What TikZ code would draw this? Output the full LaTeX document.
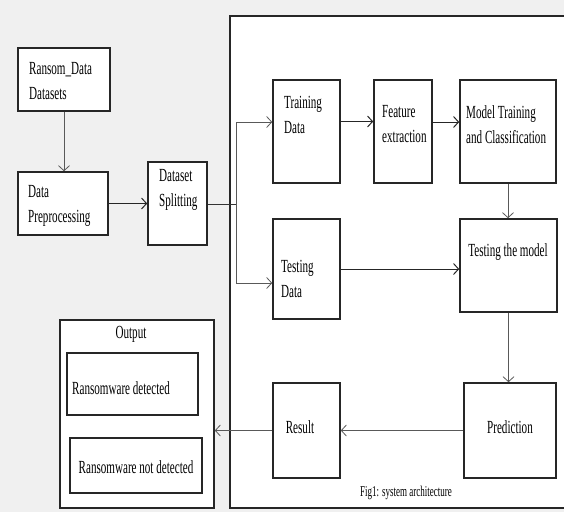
\documentclass[tikz,border=0pt]{standalone}
\usepackage{fontspec}
\setmainfont[FakeStretch=0.6]{Liberation Serif}
\usetikzlibrary{arrows.meta,%
		calc,%
		positioning}
\tikzset{blk/.style={draw=black!85, line width=1.6pt, fill=white, inner sep=0pt},
	lbl/.style={font=\fontsize{18.5}{25}\selectfont, align=left, inner sep=0pt},
	conn/.style={draw=black!65, line width=0.8pt, -{Straight Barb[length=5pt,width=11pt]}}}
\begin{document}
\begin{tikzpicture}[x=1pt,y=-1pt]
%sfondo e riquadro
\fill[black!6] (0,0) rectangle (564,512);
\useasboundingbox (0,0) rectangle (564,512);
\draw[fill=white, line width=1.6pt, draw=black!85] (230,16) rectangle (570,508);
%blocchi a sinistra
\node[blk, minimum width=92pt, minimum height=63pt] (ransom) at (64,79.5) {};
\node[lbl, anchor=west] (ransomtxt) at (29,81.5) {Ransom\_Data\\Datasets};
\node[blk, minimum width=90pt, minimum height=63pt] (prep) at (63,203.5) {};
\node[lbl, anchor=west] (preptxt) at (28,205.5) {Data\\Preprocessing};
\node[blk, minimum width=59pt, minimum height=83pt] (split) at (177.5,203.5) {};
\node[lbl, anchor=west] (splittxt) at (159,190) {Dataset\\Splitting};
%blocchi nel riquadro
\node[blk, minimum width=67pt, minimum height=103pt] (train) at (306.5,131.5) {};
\node[lbl, anchor=west] (traintxt) at (284,115) {Training\\Data};
\node[blk, minimum width=58pt, minimum height=103pt] (feat) at (403,131.5) {};
\node[lbl, anchor=west] (feattxt) at (382,124.5) {Feature\\extraction};
\node[blk, minimum width=96pt, minimum height=103pt] (model) at (508,131.5) {};
\node[lbl, anchor=west] (modeltxt) at (466,125) {Model Training\\and Classification};
\node[blk, minimum width=67pt, minimum height=100pt] (testd) at (306.5,269) {};
\node[lbl, anchor=west] (testdtxt) at (281,278.5) {Testing\\Data};
\node[blk, minimum width=97pt, minimum height=93pt] (testm) at (508.5,265.5) {};
\node[lbl] (testmtxt) at (508,252) {Testing the model};
\node[blk, minimum width=92pt, minimum height=95pt] (pred) at (510,430.5) {};
\node[lbl] (predtxt) at (510,427) {Prediction};
\node[blk, minimum width=67pt, minimum height=95pt] (result) at (306.5,430.5) {};
\node[lbl] (resulttxt) at (300,427) {Result};
\node[font=\fontsize{15}{16}\selectfont, inner sep=0pt] (caption) at (406,493) {Fig1: system architecture};
%uscita
\node[blk, minimum width=154pt, minimum height=188pt] (out) at (137,414) {};
\node[lbl] (outtxt) at (131,334) {Output};
\node[blk, minimum width=131pt, minimum height=62pt] (det) at (132.5,384) {};
\node[lbl, anchor=west] (dettxt) at (72,388) {Ransomware detected};
\node[blk, minimum width=132pt, minimum height=55pt] (notdet) at (136,465.5) {};
\node[lbl] (notdettxt) at (136,467) {Ransomware not detected};
%collegamenti
\coordinate (fork) at (236,204);
\draw[conn] (ransom.south) -- (ransom.south |- prep.north);
\draw[conn, draw=black!85, line width=1pt] (prep.east) -- (prep.east -| split.west);
\draw[draw=black!80, line width=1pt] (split.east |- fork) -- (fork);
\draw[conn] (fork) |- ($(train.west)+(0,-9.5)$);
\draw[conn] (fork) |- ($(testd.west)+(0,14)$);
\draw[conn, draw=black!85, line width=1pt] ($(train.east)+(0,-10)$) -- ($(feat.west)+(0,-10)$);
\draw[conn, draw=black!85, line width=1pt] ($(feat.east)+(0,-9.5)$) -- ($(model.west)+(0,-9.5)$);
\draw[conn] (model.south) -- (model.south |- testm.north);
\draw[conn, draw=black!85, line width=1pt] (testd.east) -- (testd.east -| testm.west);
\draw[conn] (testm.south) -- (testm.south |- pred.north);
\draw[conn] (pred.west) -- (pred.west -| result.east);
\draw[conn] (result.west) -- (result.west -| out.east);
\end{tikzpicture}
\end{document}
